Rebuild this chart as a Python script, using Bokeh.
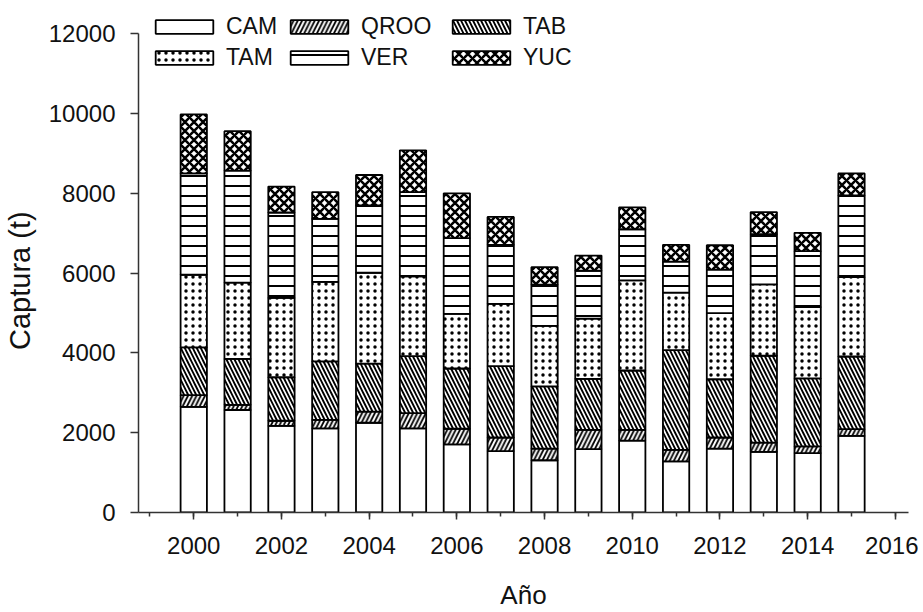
from bokeh.plotting import figure
from bokeh.models import Legend, LegendItem, SingleIntervalTicker, Range1d
from bokeh.embed import file_html
from bokeh.resources import INLINE

years = [2000, 2001, 2002, 2003, 2004, 2005, 2006, 2007, 2008, 2009, 2010, 2011, 2012, 2013, 2014, 2015]
CAM = [2650, 2570, 2170, 2110, 2250, 2110, 1710, 1540, 1310, 1590, 1800, 1280, 1600, 1520, 1490, 1920]
QROO = [290, 130, 130, 210, 280, 380, 390, 340, 290, 480, 270, 290, 280, 230, 170, 170]
TAB = [1200, 1150, 1090, 1470, 1200, 1430, 1510, 1790, 1560, 1280, 1490, 2500, 1460, 2180, 1700, 1820]
TAM = [1820, 1910, 1990, 1990, 2280, 2000, 1370, 1560, 1520, 1510, 2260, 1440, 1660, 1790, 1790, 1990]
VER = [2540, 2810, 2140, 1580, 1690, 2110, 1900, 1480, 1030, 1200, 1280, 780, 1090, 1260, 1400, 2050]
YUC = [1480, 990, 650, 670, 760, 1050, 1120, 700, 440, 380, 550, 420, 610, 550, 460, 550]

series = ["CAM", "QROO", "TAB", "TAM", "VER", "YUC"]
patterns = [" ", "/", "\\", ".", "-", "x"]
scales = [8, 8.5, 8, 7, 10, 9]
weights = [1, 1.8, 1.9, 1, 2, 2.5]

FONT = "Liberation Sans"
Y_TOP = 12000 * 512 / 478.7  # extra room above the 12000 tick for the legend

data = dict(year=years, CAM=CAM, QROO=QROO, TAB=TAB, TAM=TAM, VER=VER, YUC=YUC)

p = figure(width=918, height=612, output_backend="svg", toolbar_location=None,
           x_range=Range1d(1998.74, 2016.3), y_range=Range1d(0, Y_TOP),
           min_border_left=136, min_border_right=10, min_border_top=0, min_border_bottom=100)
p.outline_line_color = None
p.grid.grid_line_color = None
p.background_fill_color = "white"

renderers = p.vbar_stack(series, x="year", width=0.6, source=data,
                         fill_color="white", line_color="black", line_width=1.8,
                         hatch_pattern=patterns, hatch_color="black",
                         hatch_scale=scales, hatch_weight=weights)

p.xaxis.ticker = SingleIntervalTicker(interval=2, num_minor_ticks=2)
p.yaxis.ticker = SingleIntervalTicker(interval=2000, num_minor_ticks=0)
p.yaxis.bounds = (0, 12000)
for ax in (p.xaxis[0], p.yaxis[0]):
    ax.axis_line_color = "#333333"
    ax.axis_line_width = 1.5
    ax.major_tick_line_color = "#333333"
    ax.major_tick_line_width = 1.5
    ax.minor_tick_line_color = "#333333"
    ax.minor_tick_line_width = 1.5
    ax.major_tick_in = 0
    ax.minor_tick_in = 0
    ax.major_label_text_font = FONT
    ax.major_label_text_font_size = "24px"
    ax.major_label_text_color = "#111111"
    ax.axis_label_text_font = FONT
    ax.axis_label_text_font_style = "normal"
    ax.axis_label_text_color = "#111111"

p.xaxis.axis_label_text_font_size = "26px"
p.yaxis.axis_label_text_font_size = "29px"
p.xaxis.major_tick_out = 7
p.xaxis.minor_tick_out = 4
p.yaxis.major_tick_out = 8
p.yaxis.minor_tick_out = 0
p.xaxis.major_label_standoff = 17
p.yaxis.major_label_standoff = 15
p.xaxis.axis_label = "Año"
# non-breaking spaces centre the visible label on the 0-12000 axis span
p.yaxis.axis_label = "Captura (t)" + "\u00a0" * 6
p.xaxis.axis_label_standoff = 23
p.yaxis.axis_label_standoff = 10

cols = [(0, 3), (1, 4), (2, 5)]
xs = [10, 145, 307]
for (a, b), lx in zip(cols, xs):
    leg = Legend(items=[LegendItem(label=series[a], renderers=[renderers[a]]),
                        LegendItem(label=series[b], renderers=[renderers[b]])],
                 location=(lx, 441), orientation="vertical",
                 glyph_width=72, glyph_height=17, label_height=22, label_width=20,
                 label_standoff=6, spacing=4, padding=0, margin=0,
                 border_line_color=None, background_fill_alpha=0,
                 label_text_font=FONT, label_text_font_size="23px",
                 label_text_color="#111111")
    p.add_layout(leg)

open("out.html", "w").write(file_html(p, INLINE))
